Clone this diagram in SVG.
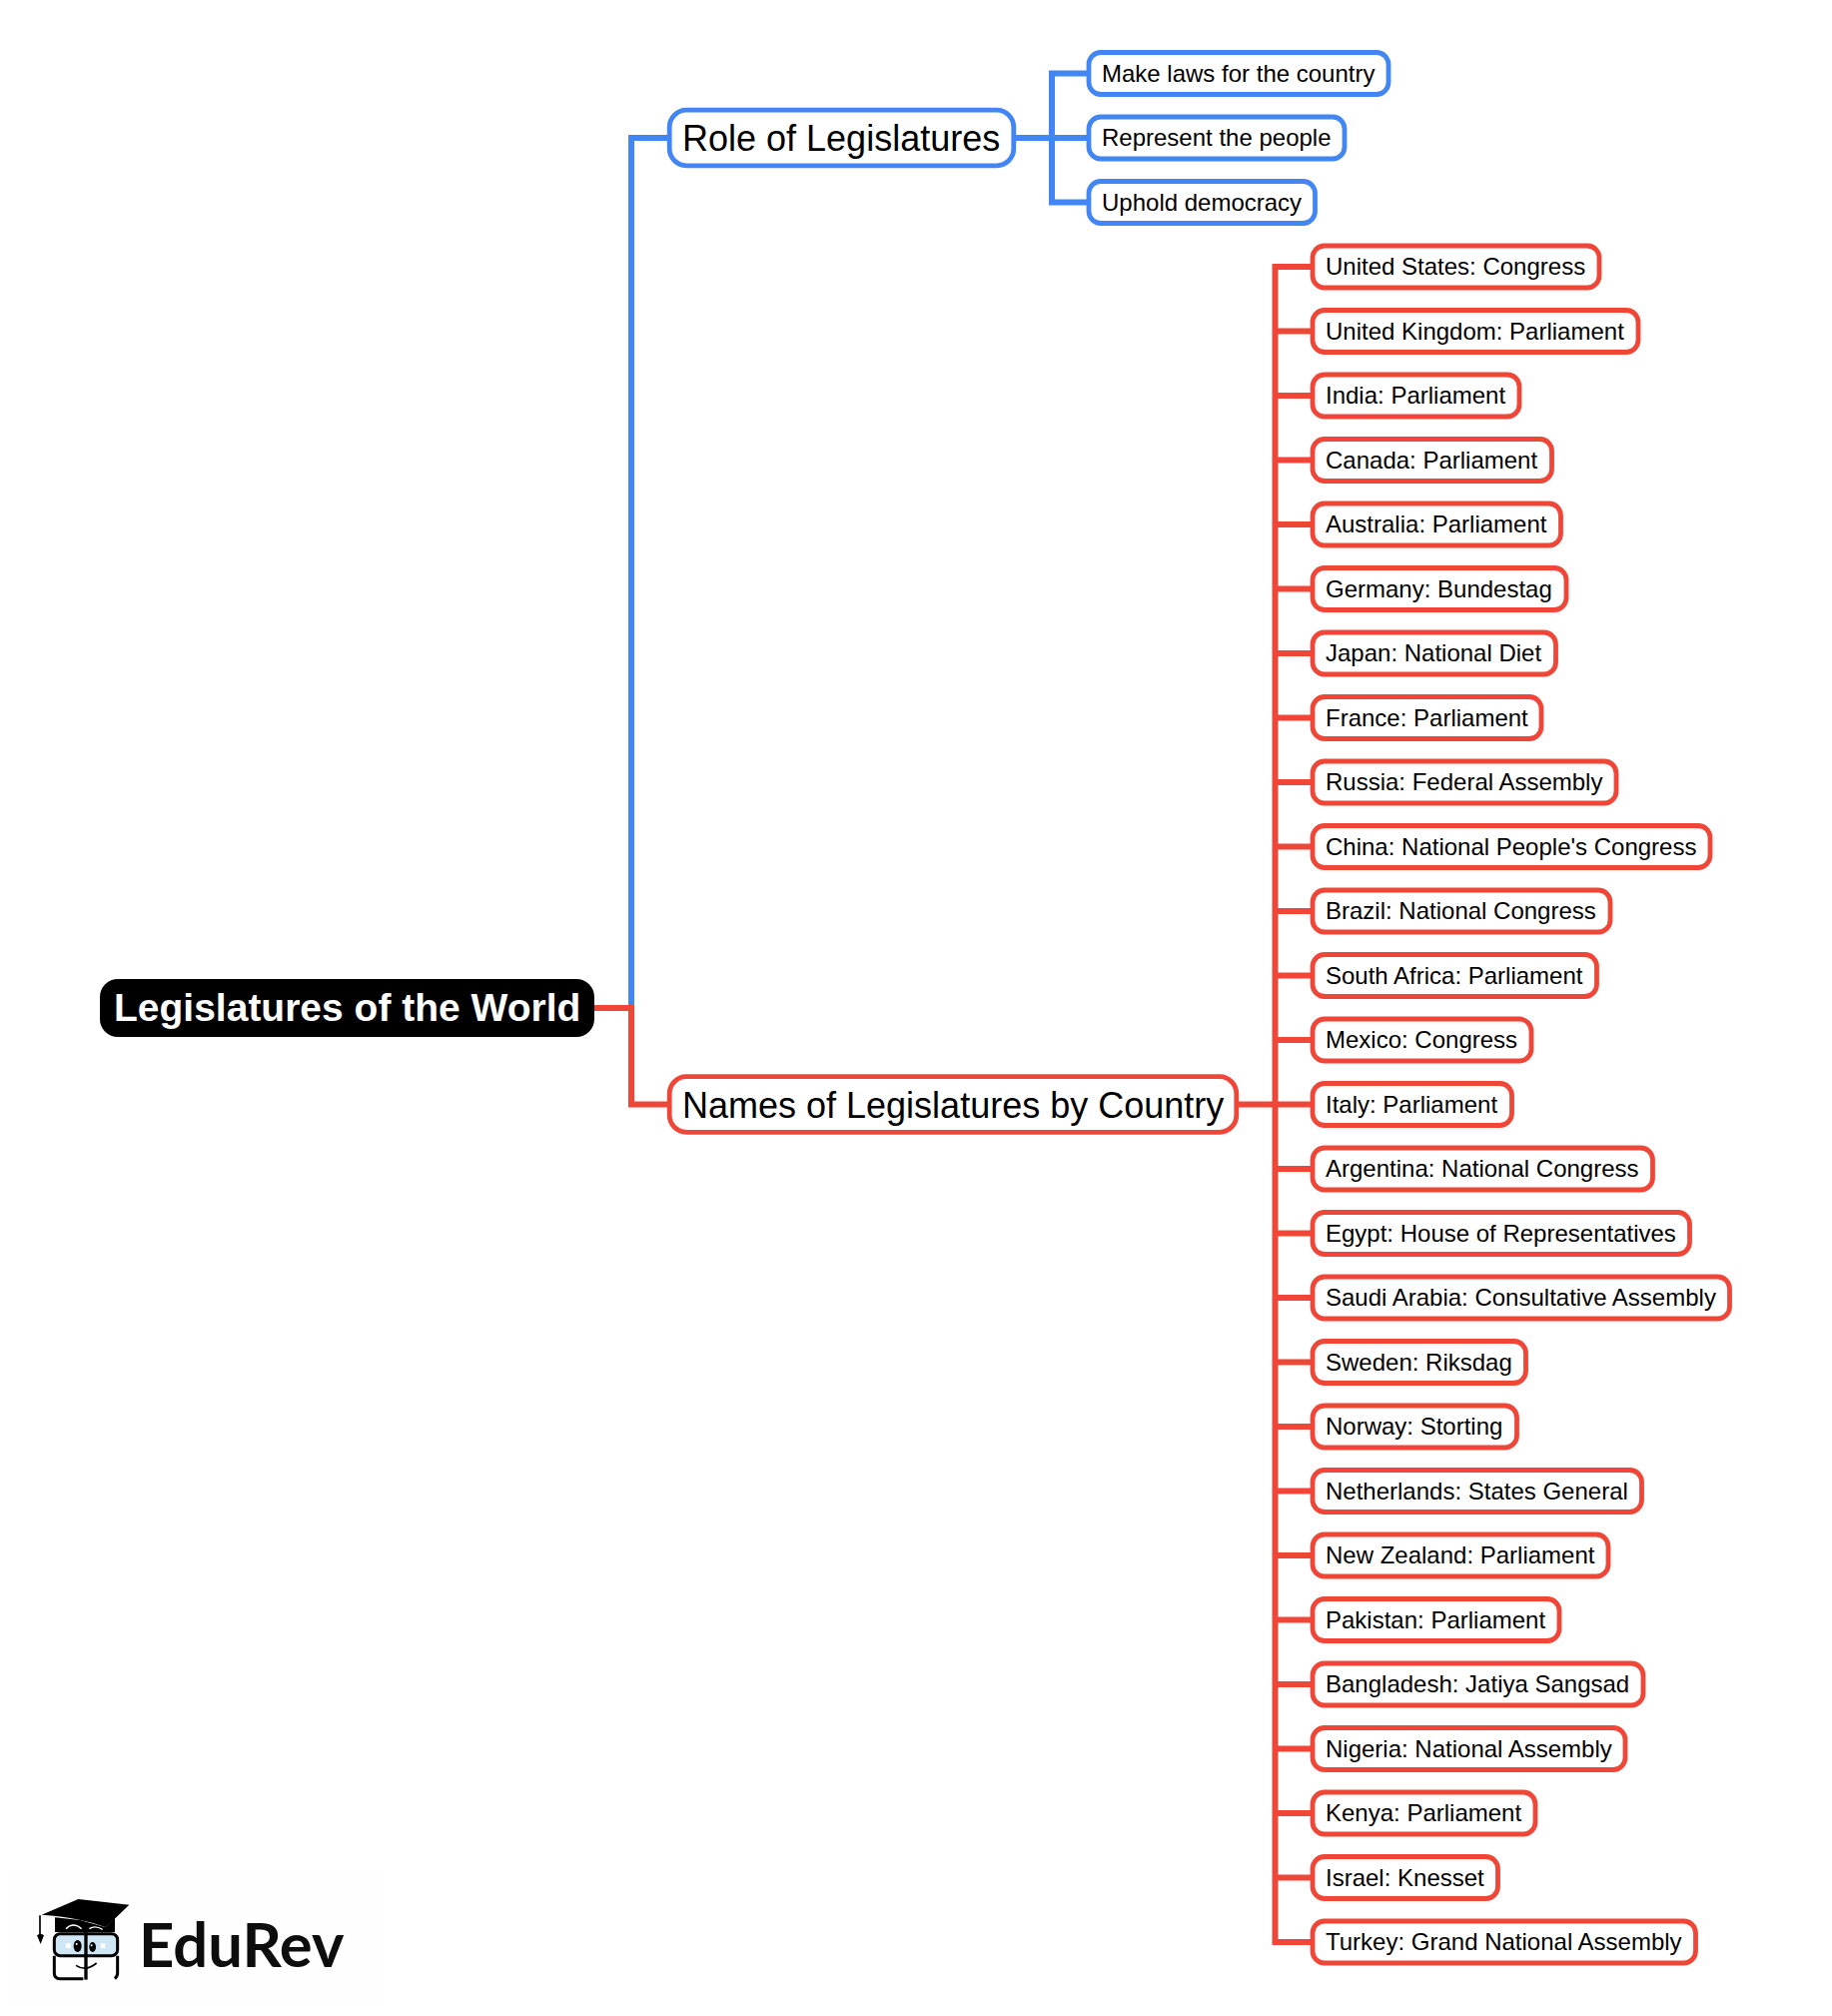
<svg xmlns="http://www.w3.org/2000/svg" width="1834" height="2018" viewBox="0 0 1834 2018">
<style>
text{font-family:"Liberation Sans",Arial,sans-serif;fill:#000}
.l{font-size:24px}
.m{font-size:36px}
.b{fill:#fff;stroke-width:4.8}
.blue{stroke:#4285f4}
.red{stroke:#f04638}
.c{fill:none;stroke-width:6}
</style>
<rect width="1834" height="2018" fill="#fff"/>
<g id="connectors">
<path class="c blue" d="M595 1009H632V138H668"/>
<path class="c red" d="M595 1009H632V1105.500H668"/>
<path class="c blue" d="M1016 138H1088M1088 73.500H1053V202.500H1088"/>
<path class="c red" d="M1240 1105.500H1312M1312 267H1276.500V1944H1312M1276.500 331.500H1312M1276.500 396H1312M1276.500 460.500H1312M1276.500 525H1312M1276.500 589.500H1312M1276.500 654H1312M1276.500 718.500H1312M1276.500 783H1312M1276.500 847.500H1312M1276.500 912H1312M1276.500 976.500H1312M1276.500 1041H1312M1276.500 1170H1312M1276.500 1234.500H1312M1276.500 1299H1312M1276.500 1363.500H1312M1276.500 1428H1312M1276.500 1492.500H1312M1276.500 1557H1312M1276.500 1621.500H1312M1276.500 1686H1312M1276.500 1750.500H1312M1276.500 1815H1312M1276.500 1879.500H1312"/>
</g>
<g id="root"><rect x="100" y="980" width="495" height="58" rx="18" fill="#000"/><text x="114" y="1022" font-size="39" font-weight="700" style="fill:#fff">Legislatures of the World</text></g>
<g id="role"><rect class="b blue" x="670.200" y="110.200" width="344.600" height="55.600" rx="17"/><text class="m" x="683" y="150.500">Role of Legislatures</text></g>
<g id="names"><rect class="b red" x="670.200" y="1077.700" width="567.600" height="55.600" rx="17"/><text class="m" x="683" y="1118.500">Names of Legislatures by Country</text></g>
<g id="n1"><rect class="b blue" x="1090" y="52.500" width="300" height="42" rx="12"/><text class="l" x="1103" y="81.500">Make laws for the country</text></g>
<g id="n2"><rect class="b blue" x="1090" y="117" width="256" height="42" rx="12"/><text class="l" x="1103" y="146">Represent the people</text></g>
<g id="n3"><rect class="b blue" x="1090" y="181.500" width="226.500" height="42" rx="12"/><text class="l" x="1103" y="210.500">Uphold democracy</text></g>
<g id="c1"><rect class="b red" x="1314" y="246" width="287" height="42" rx="12"/><text class="l" x="1327" y="275">United States: Congress</text></g>
<g id="c2"><rect class="b red" x="1314" y="310.500" width="326" height="42" rx="12"/><text class="l" x="1327" y="339.500">United Kingdom: Parliament</text></g>
<g id="c3"><rect class="b red" x="1314" y="375" width="207" height="42" rx="12"/><text class="l" x="1327" y="404">India: Parliament</text></g>
<g id="c4"><rect class="b red" x="1314" y="439.500" width="239.500" height="42" rx="12"/><text class="l" x="1327" y="468.500">Canada: Parliament</text></g>
<g id="c5"><rect class="b red" x="1314" y="504" width="248.500" height="42" rx="12"/><text class="l" x="1327" y="533">Australia: Parliament</text></g>
<g id="c6"><rect class="b red" x="1314" y="568.500" width="254" height="42" rx="12"/><text class="l" x="1327" y="597.500">Germany: Bundestag</text></g>
<g id="c7"><rect class="b red" x="1314" y="633" width="243.500" height="42" rx="12"/><text class="l" x="1327" y="662">Japan: National Diet</text></g>
<g id="c8"><rect class="b red" x="1314" y="697.500" width="229" height="42" rx="12"/><text class="l" x="1327" y="726.500">France: Parliament</text></g>
<g id="c9"><rect class="b red" x="1314" y="762" width="304" height="42" rx="12"/><text class="l" x="1327" y="791">Russia: Federal Assembly</text></g>
<g id="c10"><rect class="b red" x="1314" y="826.500" width="398" height="42" rx="12"/><text class="l" x="1327" y="855.500">China: National People's Congress</text></g>
<g id="c11"><rect class="b red" x="1314" y="891" width="298" height="42" rx="12"/><text class="l" x="1327" y="920">Brazil: National Congress</text></g>
<g id="c12"><rect class="b red" x="1314" y="955.500" width="284.500" height="42" rx="12"/><text class="l" x="1327" y="984.500">South Africa: Parliament</text></g>
<g id="c13"><rect class="b red" x="1314" y="1020" width="219" height="42" rx="12"/><text class="l" x="1327" y="1049">Mexico: Congress</text></g>
<g id="c14"><rect class="b red" x="1314" y="1084.500" width="199.500" height="42" rx="12"/><text class="l" x="1327" y="1113.500">Italy: Parliament</text></g>
<g id="c15"><rect class="b red" x="1314" y="1149" width="340.500" height="42" rx="12"/><text class="l" x="1327" y="1178">Argentina: National Congress</text></g>
<g id="c16"><rect class="b red" x="1314" y="1213.500" width="377.500" height="42" rx="12"/><text class="l" x="1327" y="1242.500">Egypt: House of Representatives</text></g>
<g id="c17"><rect class="b red" x="1314" y="1278" width="417.500" height="42" rx="12"/><text class="l" x="1327" y="1307">Saudi Arabia: Consultative Assembly</text></g>
<g id="c18"><rect class="b red" x="1314" y="1342.500" width="213.500" height="42" rx="12"/><text class="l" x="1327" y="1371.500">Sweden: Riksdag</text></g>
<g id="c19"><rect class="b red" x="1314" y="1407" width="204.500" height="42" rx="12"/><text class="l" x="1327" y="1436">Norway: Storting</text></g>
<g id="c20"><rect class="b red" x="1314" y="1471.500" width="329.500" height="42" rx="12"/><text class="l" x="1327" y="1500.500">Netherlands: States General</text></g>
<g id="c21"><rect class="b red" x="1314" y="1536" width="296" height="42" rx="12"/><text class="l" x="1327" y="1565">New Zealand: Parliament</text></g>
<g id="c22"><rect class="b red" x="1314" y="1600.500" width="247" height="42" rx="12"/><text class="l" x="1327" y="1629.500">Pakistan: Parliament</text></g>
<g id="c23"><rect class="b red" x="1314" y="1665" width="331" height="42" rx="12"/><text class="l" x="1327" y="1694">Bangladesh: Jatiya Sangsad</text></g>
<g id="c24"><rect class="b red" x="1314" y="1729.500" width="313" height="42" rx="12"/><text class="l" x="1327" y="1758.500">Nigeria: National Assembly</text></g>
<g id="c25"><rect class="b red" x="1314" y="1794" width="223" height="42" rx="12"/><text class="l" x="1327" y="1823">Kenya: Parliament</text></g>
<g id="c26"><rect class="b red" x="1314" y="1858.500" width="185.500" height="42" rx="12"/><text class="l" x="1327" y="1887.500">Israel: Knesset</text></g>
<g id="c27"><rect class="b red" x="1314" y="1923" width="383.500" height="42" rx="12"/><text class="l" x="1327" y="1952">Turkey: Grand National Assembly</text></g>
<g id="logo">
<rect x="10" y="1875" width="375" height="128" fill="#fefefe"/>
<g transform="translate(0 1860) scale(.3333)">
<path d="M165 178V222H345L345 180L318 208L240 186Z" fill="#000"/>
<path d="M125 170L235 123L388 140L318 208Q240 178 125 170Z" fill="#000"/>
<path d="M120 172V232" stroke="#000" stroke-width="5" fill="none"/>
<path d="M111 232Q122 222 132 232L122 258Z" fill="#000"/>
<path d="M198 212Q220 190 245 212M268 212Q285 200 308 214" stroke="#fff" stroke-width="4" fill="none"/>
<rect x="163" y="227" width="190" height="66" rx="18" fill="#cfe6f5" stroke="#000" stroke-width="9"/>
<path d="M258 222V365" stroke="#000" stroke-width="10" fill="none"/>
<path d="M163 293V345Q163 362 180 362H250M353 293V345Q353 355 345 362" stroke="#000" stroke-width="9" fill="none"/>
<path d="M228 322Q258 342 290 315" stroke="#000" stroke-width="5" fill="none"/>
<ellipse cx="233" cy="264" rx="12" ry="18" fill="#000"/><ellipse cx="278" cy="267" rx="10" ry="15" fill="#000"/>
<circle cx="230" cy="258" r="3" fill="#fff"/><circle cx="275" cy="262" r="3" fill="#fff"/>
<path d="M198 256H212V270H198ZM302 256H316V270H302Z" fill="#fff"/>
</g>
<text x="139" y="1969" font-size="61.500" font-weight="700" style="font-family:Lato,'Noto Sans',sans-serif;fill:#0d0d0d">EduRev</text>
</g>
</svg>
